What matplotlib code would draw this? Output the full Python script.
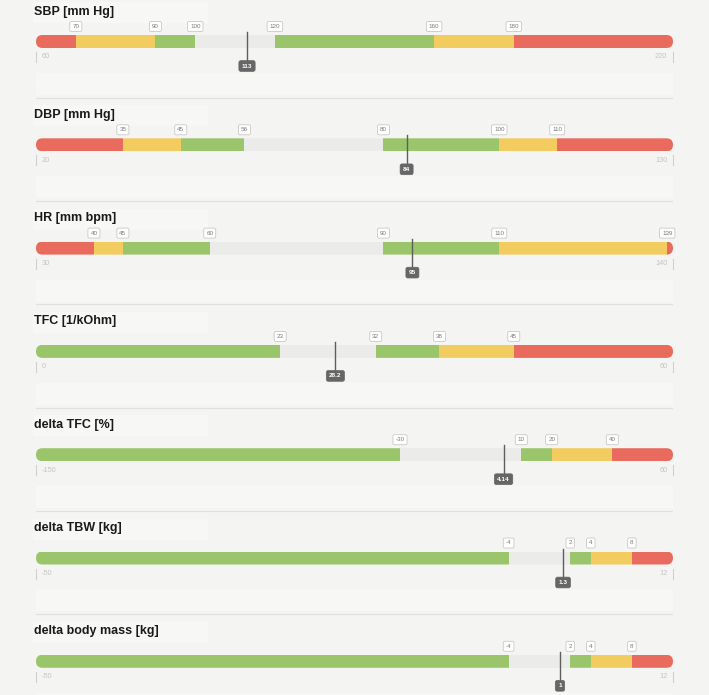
import matplotlib

matplotlib.use("Agg")
import matplotlib.pyplot as plt
import matplotlib.transforms as mtransforms
from matplotlib.patches import FancyBboxPatch, Rectangle

BG = "#f4f4f3"
PANEL_BAND = "#f7f7f6"
ZONE_COLORS = {
    "red": "#e96b5d",
    "yellow": "#f2cc5e",
    "green": "#9bc56b",
    "grey": "#ebebea",
}
INK = "#1a1a1a"
TICK_INK = "#c4c4c2"
MARKER = "#5e5e5e"

TITLES = [
    "SBP [mm Hg]",
    "DBP [mm Hg]",
    "HR [mm bpm]",
    "TFC [1/kOhm]",
    "delta TFC [%]",
    "delta TBW [kg]",
    "delta body mass [kg]",
]
RANGE_MIN = [60, 20, 30, 0, -150, -50, -50]
RANGE_MAX = [220, 130, 140, 60, 60, 12, 12]
THRESHOLDS = [
    [70, 90, 100, 120, 160, 180],
    [35, 45, 56, 80, 100, 110],
    [40, 45, 60, 90, 110, 139],
    [23, 32, 38, 45],
    [-30, 10, 20, 40],
    [-4, 2, 4, 8],
    [-4, 2, 4, 8],
]
ZONES = [
    ["red", "yellow", "green", "grey", "green", "yellow", "red"],
    ["red", "yellow", "green", "grey", "green", "yellow", "red"],
    ["red", "yellow", "green", "grey", "green", "yellow", "red"],
    ["green", "grey", "green", "yellow", "red"],
    ["green", "grey", "green", "yellow", "red"],
    ["green", "grey", "green", "yellow", "red"],
    ["green", "grey", "green", "yellow", "red"],
]
VALUES = [113, 84, 95, 28.2, 4.14, 1.3, 1]

# layout, in pixels of the 709x695 canvas
W, H = 709, 695
BAR_LEFT, BAR_RIGHT = 36, 673
STEP = 103.3
BAR_Y, BAR_H = 41.5, 13
TITLE_Y = 11.5
THRESH_Y = 26.5
LIMIT_Y = 57
MARKER_TOP, MARKER_BOX_Y = 32, 66
SEP_Y = 97.7

plt.rcParams["font.family"] = ["Liberation Sans", "DejaVu Sans"]

fig = plt.figure(figsize=(W / 100, H / 100), dpi=100, facecolor=BG)

for i, title in enumerate(TITLES):
    lo, hi = RANGE_MIN[i], RANGE_MAX[i]
    top = i * STEP
    ax = fig.add_axes([BAR_LEFT / W, 1 - (top + STEP) / H, (BAR_RIGHT - BAR_LEFT) / W, STEP / H])
    ax.set_xlim(lo, hi)
    ax.set_ylim(STEP, 0)
    ax.axis("off")

    # faint panel bands behind the title and under the bar
    blend = mtransforms.blended_transform_factory(ax.transAxes, ax.transData)
    ax.add_patch(Rectangle((-0.005, 2), 0.275, 21, transform=blend, color=PANEL_BAND, lw=0, zorder=0, clip_on=False))
    ax.add_patch(Rectangle((0, 73), 1, 22, transform=blend, color=PANEL_BAND, lw=0, zorder=0))

    ax.text(-0.003, TITLE_Y, title, transform=blend, ha="left", va="center",
            fontsize=9, fontweight="bold", color=INK)

    # segmented bar, clipped to a pill shape
    edges = [lo] + THRESHOLDS[i] + [hi]
    widths = [b - a for a, b in zip(edges[:-1], edges[1:])]
    colors = [ZONE_COLORS[z] for z in ZONES[i]]
    bars = ax.barh(BAR_Y, widths, left=edges[:-1], height=BAR_H, color=colors, lw=0, zorder=2)
    ppu = (BAR_RIGHT - BAR_LEFT) / (hi - lo)
    r = (BAR_H / 2) / ppu
    pill = FancyBboxPatch((lo, BAR_Y - BAR_H / 2), hi - lo, BAR_H,
                          boxstyle=f"round,pad=0,rounding_size={r}",
                          mutation_aspect=ppu, transform=ax.transData)
    for b in bars:
        b.set_clip_path(pill)

    for t in THRESHOLDS[i]:
        ax.text(t, THRESH_Y, f"{t:g}", ha="center", va="center", fontsize=4.5, color="#7a7a7a",
                zorder=4, clip_on=False,
                bbox=dict(boxstyle="round,pad=0.4,rounding_size=0.25", fc="white", ec="#c9c9c7", lw=0.6))

    # range limits
    ax.plot([lo, lo], [LIMIT_Y - 5, LIMIT_Y + 5], color="#d0d0ce", lw=0.8, clip_on=False)
    ax.plot([hi, hi], [LIMIT_Y - 5, LIMIT_Y + 5], color="#d0d0ce", lw=0.8, clip_on=False)
    ax.annotate(f"{lo:g}", (lo, LIMIT_Y), xytext=(4, 0), textcoords="offset points",
                ha="left", va="center", fontsize=5.3, color=TICK_INK)
    ax.annotate(f"{hi:g}", (hi, LIMIT_Y), xytext=(-4, 0), textcoords="offset points",
                ha="right", va="center", fontsize=5.3, color=TICK_INK)

    # current value marker
    v = VALUES[i]
    ax.plot([v, v], [MARKER_TOP, MARKER_BOX_Y - 4], color=MARKER, lw=1.0, zorder=3, clip_on=False)
    ax.text(v, MARKER_BOX_Y, f"{v:g}", ha="center", va="center", fontsize=4.6, fontweight="bold",
            color="white", zorder=5, clip_on=False,
            bbox=dict(boxstyle="round,pad=0.45,rounding_size=0.3", fc="#666666", ec="#666666", lw=0.5))

    ax.plot([lo, hi], [SEP_Y, SEP_Y], color="#e0e0de", lw=0.8, zorder=1)

fig.savefig("out.png", dpi=100, facecolor=BG)
